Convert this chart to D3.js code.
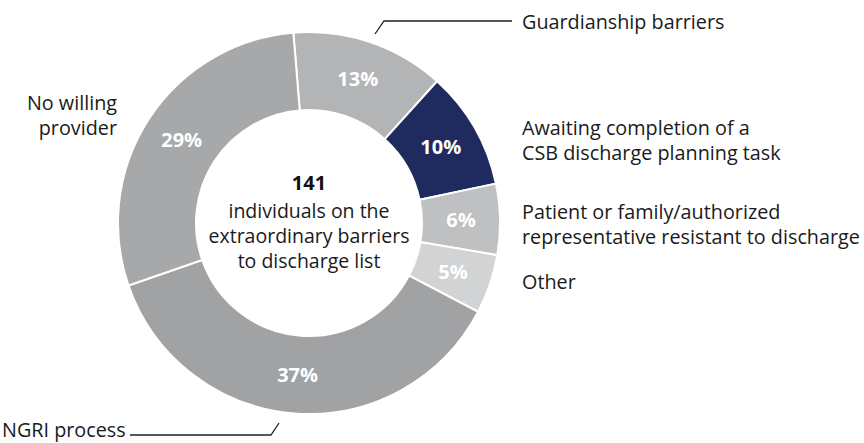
<!DOCTYPE html>
<html><head><meta charset="utf-8">
<script src="https://cdn.jsdelivr.net/npm/d3@7"></script>
<style>body{margin:0;background:#fff}svg{display:block}text{font-family:"Open Sans",sans-serif}</style>
</head><body><svg id="c" width="864" height="443"></svg>
<script>
const categories = ["Guardianship barriers","Awaiting completion of a CSB discharge planning task","Patient or family/authorized representative resistant to discharge","Other","NGRI process","No willing provider"];
const values = [13,10,6,5,37,29];
const colors = ["#b3b4b6","#1f2a5e","#bfc0c2","#d2d3d5","#a1a2a4","#a7a8aa"];
const totalCount = 141;
const centerLines = ["individuals on the","extraordinary barriers","to discharge list"];

const svg = d3.select("#c");
const cx = 309, cy = 223, R = 191, r = 113;
const g = svg.append("g").attr("transform", `translate(${cx},${cy})`);
const startA = -4.7 * Math.PI / 180;
const pie = d3.pie().sort(null).value(d => d).startAngle(startA).endAngle(startA + 2 * Math.PI);
const arcs = pie(values);
const arc = d3.arc().innerRadius(r).outerRadius(R);
g.selectAll("path").data(arcs).join("path")
  .attr("d", arc).attr("fill", (d, i) => colors[i])
  .attr("stroke", "#fff").attr("stroke-width", 2);
const lab = d3.arc().innerRadius(152).outerRadius(152);
g.selectAll("text.pct").data(arcs).join("text").attr("class", "pct")
  .attr("transform", d => `translate(${lab.centroid(d)})`)
  .attr("text-anchor", "middle").attr("dy", "0.36em")
  .attr("fill", "#fff").attr("font-weight", 700).attr("font-size", 20)
  .text(d => d.data + "%");

// center
g.append("text").attr("text-anchor", "middle").attr("y", -40).attr("dy", "0.36em")
  .attr("font-weight", 700).attr("font-size", 20).attr("fill", "#111").text(totalCount);
const ct = g.append("text").attr("text-anchor", "middle").attr("font-size", 19.5).attr("fill", "#1a1a1a");
centerLines.forEach((t, i) => {
  ct.append("tspan").attr("x", 0).attr("y", -12 + i * 25).attr("dy", "0.36em").text(t);
});

// outside labels
const fs = 19.8;
function lines(x, y0, arr, anchor) {
  const t = svg.append("text").attr("text-anchor", anchor || "start")
    .attr("font-size", fs).attr("fill", "#1a1a1a");
  arr.forEach((s, i) => t.append("tspan").attr("x", x).attr("y", y0 + i * 25).attr("dy", "0.36em").text(s));
}
lines(522, 22, ["Guardianship barriers"]);
lines(522, 128, ["Awaiting completion of a", "CSB discharge planning task"]);
lines(522, 212, ["Patient or family/authorized", "representative resistant to discharge"]);
lines(522, 282, ["Other"]);
lines(117, 103, ["No willing", "provider"], "end");
lines(2, 430, ["NGRI process"]);

const line = d3.line();
svg.append("path").attr("d", line([[375, 34], [384, 21], [512, 21]]))
  .attr("fill", "none").attr("stroke", "#222").attr("stroke-width", 1.3);
svg.append("path").attr("d", line([[130, 435], [271, 435], [279, 423]]))
  .attr("fill", "none").attr("stroke", "#222").attr("stroke-width", 1.3);
</script></body></html>
